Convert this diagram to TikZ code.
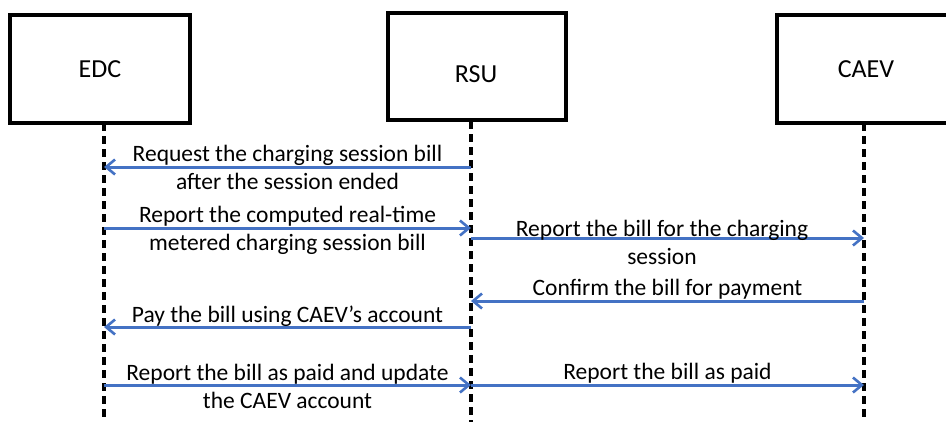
\documentclass[tikz,border=0pt]{standalone}
\usepackage{fontspec}
\setmainfont{Carlito}
\usetikzlibrary{arrows.meta}
\definecolor{msgblue}{HTML}{4472C4}
\tikzset{
  actor/.style={draw=black, line width=3.2pt, fill=white, inner sep=0pt},
  actorname/.style={font=\fontsize{26}{30}\selectfont, inner sep=0pt},
  lifeline/.style={draw=black, line width=3.3pt, dash pattern=on 8pt off 5pt},
  msg/.style={draw=msgblue, line width=3pt, -{Straight Barb[length=9pt,width=15pt,line width=2.6pt]}},
  msgtext/.style={font=\fontsize{23.5}{28}\selectfont, align=center, inner sep=0pt},
}
\begin{document}
\begin{tikzpicture}[x=1pt, y=-1pt]
  \useasboundingbox (0,0) rectangle (946,421);
  \clip (0,0) rectangle (946,421);

  % participants
  \node[actor, minimum width=180pt, minimum height=108pt] (edc)  at (100,69)   {};
  \node[actor, minimum width=178pt, minimum height=107pt] (rsu)  at (477,66.5) {};
  \node[actor, minimum width=178pt, minimum height=108pt] (caev) at (866,69)   {};
  \node[actorname] (edcname)  at (100,69)  {EDC};
  \node[actorname] (rsuname)  at (476,74)  {RSU};
  \node[actorname] (caevname) at (866,69)  {CAEV};

  % lifeline end points
  \coordinate (edcT)  at (104,123);  \coordinate (edcB)  at (104,423);
  \coordinate (rsuT)  at (471,121);  \coordinate (rsuB)  at (471,423);
  \coordinate (caevT) at (864,123);  \coordinate (caevB) at (864,423);
  \draw[lifeline] (edcT) -- (edcB);
  \draw[lifeline] (rsuT) -- (rsuB);
  \draw[lifeline] (caevT) -- (caevB);

  % message anchors on the lifelines
  \coordinate (r1) at (471,167); \coordinate (e1) at (104,167);
  \coordinate (e2) at (104,228); \coordinate (r2) at (471,228);
  \coordinate (r3) at (471,238); \coordinate (c3) at (864,238);
  \coordinate (c4) at (864,301); \coordinate (r4) at (471,301);
  \coordinate (r5) at (471,327); \coordinate (e5) at (104,327);
  \coordinate (e6) at (104,385); \coordinate (r6) at (471,385);
  \coordinate (r7) at (471,385); \coordinate (c7) at (864,385);

  % messages
  \draw[msg] (r1) -- (e1);
  \node[msgtext] (t1) at (287.5,167) {Request the charging session bill\\after the session ended};

  \draw[msg] (e2) -- (r2);
  \node[msgtext] (t2) at (287.5,230) {Report the computed real-time\\metered charging session bill};

  \draw[msg] (r3) -- (c3);
  \node[msgtext] (t3) at (662,242) {Report the bill for the charging\\session};

  \draw[msg] (c4) -- (r4);
  \node[msgtext] (t4) at (667.5,289) {Confirm the bill for payment};

  \draw[msg] (r5) -- (e5);
  \node[msgtext] (t5) at (287.5,316) {Pay the bill using CAEV’s account};

  \draw[msg] (e6) -- (r6);
  \node[msgtext] (t6) at (287.5,386) {Report the bill as paid and update\\the CAEV account};

  \draw[msg] (r7) -- (c7);
  \node[msgtext] (t7) at (667.5,373) {Report the bill as paid};
\end{tikzpicture}
\end{document}
